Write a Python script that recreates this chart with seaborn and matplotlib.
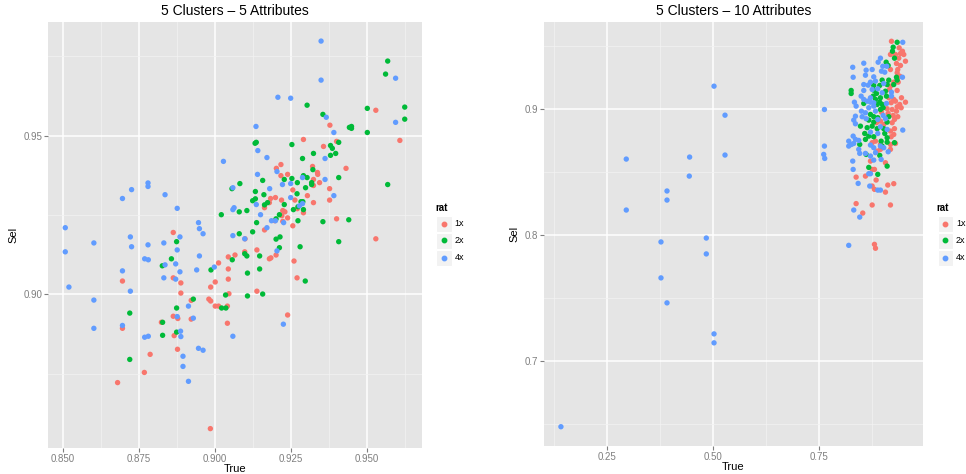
import pandas as pd
import matplotlib
matplotlib.use('Agg')
import matplotlib.pyplot as plt
import seaborn as sns
from matplotlib.patches import Rectangle
from matplotlib.lines import Line2D
from matplotlib.ticker import FixedLocator

# ── data ────────────────────────────────────────────────────
levels = ['1x', '2x', '4x']
palette = ['#F8766D', '#00BA38', '#619CFF']

# panel 1: 5 clusters, 5 attributes
a5_1x_true = [0.8864, 0.9045, 0.9013, 0.9045, 0.8697, 0.8864, 0.8889, 0.9002, 0.9045, 0.8987,
              0.8889, 0.9047, 0.8923, 0.8981, 0.8987, 0.9002, 0.9013, 0.9042, 0.8864, 0.8879,
              0.8923, 0.8825, 0.9042, 0.8697, 0.8867, 0.8878, 0.8788, 0.8769, 0.8681, 0.8986,
              0.9530, 0.9379, 0.9292, 0.9609, 0.9401, 0.9358, 0.9218, 0.9432, 0.9203, 0.9322,
              0.9218, 0.9240, 0.9338, 0.9339, 0.9325, 0.9345, 0.9325, 0.9378, 0.9257, 0.9305,
              0.9200, 0.9184, 0.9220, 0.9264, 0.9378, 0.9180, 0.9325, 0.9164, 0.9272, 0.9224,
              0.9231, 0.9292, 0.9221, 0.9240, 0.9198, 0.9224, 0.9401, 0.9257, 0.9164, 0.9100,
              0.9530, 0.9139, 0.9099, 0.9067, 0.9202, 0.9180, 0.9185, 0.9261, 0.9271, 0.9139, 0.9240]
a5_1x_sel = [0.9195, 0.9118, 0.9099, 0.9080, 0.9042, 0.9052, 0.9036, 0.9039, 0.9048, 0.9023,
             0.9004, 0.9002, 0.8981, 0.8985, 0.8979, 0.8963, 0.8963, 0.8963, 0.8931, 0.8924,
             0.8922, 0.8912, 0.8909, 0.8893, 0.8870, 0.8827, 0.8811, 0.8754, 0.8722, 0.8577,
             0.9580, 0.9533, 0.9488, 0.9485, 0.9482, 0.9466, 0.9409, 0.9397, 0.9397, 0.9403,
             0.9374, 0.9378, 0.9384, 0.9378, 0.9362, 0.9352, 0.9343, 0.9333, 0.9329, 0.9311,
             0.9305, 0.9302, 0.9297, 0.9297, 0.9297, 0.9289, 0.9289, 0.9273, 0.9270, 0.9264,
             0.9260, 0.9257, 0.9248, 0.9241, 0.9232, 0.9230, 0.9238, 0.9216, 0.9203, 0.9175,
             0.9175, 0.9140, 0.9134, 0.9124, 0.9124, 0.9112, 0.9115, 0.9105, 0.9052, 0.9010, 0.8935]

a5_2x_true = [0.9022, 0.8875, 0.8858, 0.8828, 0.8988, 0.9036, 0.8930, 0.9023, 0.9037, 0.8875,
              0.8721, 0.8829, 0.8829, 0.8875, 0.8721, 0.9569, 0.9562, 0.9304, 0.9502, 0.9625,
              0.9625, 0.9356, 0.9443, 0.9450, 0.9450, 0.9502, 0.9408, 0.9137, 0.9133, 0.9254,
              0.9381, 0.9387, 0.9325, 0.9398, 0.9381, 0.9289, 0.9323, 0.9292, 0.9304, 0.9408,
              0.9254, 0.9229, 0.9158, 0.9272, 0.9319, 0.9319, 0.9083, 0.9569, 0.9299, 0.9057,
              0.9134, 0.9271, 0.9162, 0.9134, 0.9125, 0.9174, 0.9164, 0.9284, 0.9290, 0.9229,
              0.9274, 0.9081, 0.9106, 0.9259, 0.9292, 0.9213, 0.9202, 0.9274, 0.9356, 0.9441,
              0.9138, 0.9125, 0.9081, 0.9215, 0.9202, 0.9408, 0.9213, 0.9281, 0.9099, 0.9106,
              0.9148, 0.9058, 0.9148, 0.9108, 0.9298, 0.9158, 0.9108]
a5_2x_sel = [0.9251, 0.9166, 0.9112, 0.9090, 0.9077, 0.8998, 0.8985, 0.8957, 0.8957, 0.8957,
             0.8941, 0.8912, 0.8871, 0.8881, 0.8795, 0.9735, 0.9694, 0.9596, 0.9586, 0.9590,
             0.9552, 0.9567, 0.9526, 0.9529, 0.9523, 0.9510, 0.9479, 0.9479, 0.9476, 0.9472,
             0.9469, 0.9460, 0.9444, 0.9444, 0.9438, 0.9428, 0.9393, 0.9374, 0.9368, 0.9368,
             0.9365, 0.9362, 0.9359, 0.9352, 0.9352, 0.9346, 0.9349, 0.9346, 0.9336, 0.9333,
             0.9324, 0.9317, 0.9314, 0.9301, 0.9295, 0.9289, 0.9282, 0.9292, 0.9292, 0.9283,
             0.9276, 0.9260, 0.9264, 0.9267, 0.9267, 0.9251, 0.9238, 0.9232, 0.9229, 0.9235,
             0.9226, 0.9197, 0.9191, 0.9181, 0.9174, 0.9166, 0.9147, 0.9150, 0.9128, 0.9121,
             0.9121, 0.9109, 0.9080, 0.9067, 0.9042, 0.9001, 0.8995]

a5_4x_true = [0.9029, 0.8781, 0.8781, 0.8727, 0.8697, 0.8837, 0.8877, 0.8947, 0.8950, 0.8962,
              0.8509, 0.8723, 0.8886, 0.8603, 0.8727, 0.8781, 0.8833, 0.8877, 0.8509, 0.8770,
              0.8782, 0.8837, 0.8872, 0.8950, 0.8999, 0.8941, 0.8886, 0.8697, 0.8833, 0.8872,
              0.8521, 0.8723, 0.8603, 0.8914, 0.8877, 0.8930, 0.8603, 0.8697, 0.8888, 0.8889,
              0.8770, 0.8782, 0.8947, 0.8962, 0.8896, 0.8896, 0.8914, 0.9350, 0.9595, 0.9350,
              0.9208, 0.9250, 0.9367, 0.9595, 0.9392, 0.9136, 0.9142, 0.9172, 0.9363, 0.9205,
              0.9141, 0.9289, 0.9363, 0.9223, 0.9250, 0.9060, 0.9181, 0.9392, 0.9250, 0.9137,
              0.9289, 0.9279, 0.9064, 0.9060, 0.9151, 0.9187, 0.9200, 0.9227, 0.9172, 0.9060,
              0.9099, 0.9205, 0.9226, 0.9060]
a5_4x_sel = [0.9419, 0.9351, 0.9340, 0.9330, 0.9302, 0.9314, 0.9271, 0.9226, 0.9207, 0.9191,
             0.9210, 0.9181, 0.9181, 0.9162, 0.9150, 0.9156, 0.9162, 0.9140, 0.9134, 0.9112,
             0.9109, 0.9093, 0.9096, 0.9121, 0.9086, 0.9077, 0.9071, 0.9074, 0.9052, 0.9048,
             0.9023, 0.9010, 0.8982, 0.8963, 0.8930, 0.8925, 0.8893, 0.8902, 0.8884, 0.8867,
             0.8865, 0.8868, 0.8830, 0.8824, 0.8805, 0.8773, 0.8726, 0.9798, 0.9681, 0.9675,
             0.9621, 0.9618, 0.9558, 0.9542, 0.9510, 0.9529, 0.9453, 0.9431, 0.9428, 0.9387,
             0.9378, 0.9368, 0.9362, 0.9346, 0.9349, 0.9336, 0.9333, 0.9311, 0.9305, 0.9283,
             0.9286, 0.9279, 0.9273, 0.9267, 0.9251, 0.9232, 0.9232, 0.9226, 0.9210, 0.9185,
             0.9175, 0.9137, 0.8906, 0.8868]

# panel 2: 5 clusters, 10 attributes
a10_1x_true = [0.9215, 0.9396, 0.9474, 0.9427, 0.9505, 0.9191, 0.9309, 0.9387, 0.9545, 0.9333,
               0.9427, 0.9191, 0.9363, 0.9349, 0.9410, 0.9269, 0.9373, 0.9191, 0.9168, 0.9349,
               0.9151, 0.9269, 0.9451, 0.9545, 0.9208, 0.9309, 0.9410, 0.9113, 0.9231, 0.9349,
               0.9444, 0.9333, 0.8979, 0.9137, 0.9255, 0.9286, 0.9363, 0.8861, 0.8955, 0.9033,
               0.9231, 0.9286, 0.9191, 0.9208, 0.9269, 0.8838, 0.8760, 0.8955, 0.9191, 0.9309,
               0.9191, 0.8878, 0.8955, 0.8720, 0.9073, 0.8760, 0.8814, 0.8602, 0.8382, 0.8854,
               0.9128, 0.9269, 0.8760, 0.8814, 0.9073, 0.8382, 0.8760, 0.9191, 0.8538, 0.8814,
               0.8838]
a10_1x_sel = [0.9535, 0.9483, 0.9456, 0.9438, 0.9430, 0.9430, 0.9430, 0.9401, 0.9377, 0.9359,
              0.9343, 0.9311, 0.9311, 0.9285, 0.9258, 0.9211, 0.9211, 0.9179, 0.9153, 0.9145,
              0.9087, 0.9074, 0.9087, 0.9052, 0.9048, 0.9060, 0.9034, 0.9000, 0.8994, 0.9016,
              0.9008, 0.8981, 0.8973, 0.8963, 0.8947, 0.8915, 0.8937, 0.8889, 0.8902, 0.8876,
              0.8889, 0.8842, 0.8823, 0.8778, 0.8796, 0.8743, 0.8731, 0.8717, 0.8717, 0.8725,
              0.8678, 0.8664, 0.8678, 0.8585, 0.8572, 0.8519, 0.8519, 0.8466, 0.8458, 0.8435,
              0.8395, 0.8406, 0.8387, 0.8361, 0.8339, 0.8248, 0.8237, 0.8237, 0.8173, 0.7925,
              0.7894]

a10_2x_true = [0.9349, 0.9255, 0.9238, 0.9286, 0.9090, 0.9137, 0.9333, 0.9349, 0.8995, 0.9151,
               0.8797, 0.8939, 0.9113, 0.9269, 0.8265, 0.8265, 0.8797, 0.8861, 0.9073, 0.9097,
               0.8783, 0.8838, 0.8955, 0.8562, 0.8939, 0.8995, 0.8878, 0.8955, 0.9019, 0.8720,
               0.8797, 0.8892, 0.9151, 0.9113, 0.8680, 0.8797, 0.8484, 0.8642, 0.8760, 0.8878,
               0.9033, 0.8585, 0.8680, 0.8797, 0.9057, 0.9113, 0.8467, 0.8602, 0.8972, 0.8995,
               0.9113, 0.9286, 0.8618, 0.8939, 0.9113, 0.8680, 0.8892]
a10_2x_sel = [0.9527, 0.9488, 0.9456, 0.9401, 0.9369, 0.9343, 0.9250, 0.9227, 0.9227, 0.9227,
              0.9185, 0.9185, 0.9192, 0.9192, 0.9145, 0.9121, 0.9147, 0.9121, 0.9139, 0.9100,
              0.9100, 0.9074, 0.9087, 0.9042, 0.9052, 0.9034, 0.9034, 0.8994, 0.9008, 0.8955,
              0.8937, 0.8929, 0.8937, 0.8894, 0.8910, 0.8894, 0.8862, 0.8850, 0.8862, 0.8842,
              0.8842, 0.8804, 0.8783, 0.8778, 0.8804, 0.8770, 0.8717, 0.8757, 0.8743, 0.8704,
              0.8735, 0.8731, 0.8638, 0.8630, 0.8545, 0.8535, 0.8480]

a10_4x_true = [0.5033, 0.5292, 0.2965, 0.4458, 0.5292, 0.4450, 0.3925, 0.3925, 0.2965, 0.3783,
               0.4851, 0.4851, 0.3783, 0.3925, 0.5033, 0.5033, 0.1425,
               0.9481, 0.8955, 0.8901, 0.8562, 0.9010, 0.9104, 0.8302, 0.8618, 0.8760, 0.8979,
               0.9057, 0.8602, 0.8312, 0.8797, 0.9474, 0.8838, 0.8720, 0.8562, 0.8665, 0.9033,
               0.8562, 0.8760, 0.8892, 0.8995, 0.9215, 0.8500, 0.8720, 0.8562, 0.9215, 0.8342,
               0.8382, 0.8642, 0.8720, 0.8797, 0.9097, 0.7635, 0.8680, 0.8797, 0.8838, 0.8507,
               0.8602, 0.8366, 0.8326, 0.9019, 0.9073, 0.8524, 0.8618, 0.8892, 0.8366, 0.8955,
               0.9113, 0.9481, 0.8312, 0.8366, 0.8720, 0.8892, 0.8444, 0.8272, 0.8208, 0.8720,
               0.8797, 0.7635, 0.7618, 0.7642, 0.8208, 0.8326, 0.8444, 0.8467, 0.8955, 0.9033,
               0.8602, 0.8720, 0.8838, 0.9137, 0.8972, 0.8797, 0.8302, 0.8312, 0.8680, 0.8720,
               0.8430, 0.8703, 0.8892, 0.8955, 0.8326, 0.8467, 0.8208]
a10_4x_sel = [0.9179, 0.8949, 0.8601, 0.8617, 0.8633, 0.8466, 0.8348, 0.8276, 0.8197, 0.7944,
              0.7975, 0.7849, 0.7659, 0.7461, 0.7215, 0.7144, 0.6479,
              0.9527, 0.9401, 0.9369, 0.9361, 0.9337, 0.9337, 0.9329, 0.9306, 0.9311, 0.9298,
              0.9290, 0.9266, 0.9250, 0.9253, 0.9250, 0.9219, 0.9211, 0.9192, 0.9187, 0.9200,
              0.9145, 0.9153, 0.9158, 0.9127, 0.9131, 0.9100, 0.9087, 0.9074, 0.9100, 0.9052,
              0.9021, 0.9060, 0.9052, 0.9048, 0.9042, 0.8994, 0.9008, 0.9021, 0.8981, 0.8981,
              0.8968, 0.8941, 0.8910, 0.8947, 0.8921, 0.8937, 0.8921, 0.8915, 0.8881, 0.8857,
              0.8836, 0.8831, 0.8783, 0.8757, 0.8815, 0.8804, 0.8749, 0.8717, 0.8704, 0.8712,
              0.8691, 0.8704, 0.8638, 0.8606, 0.8743, 0.8725, 0.8678, 0.8646, 0.8704, 0.8691,
              0.8646, 0.8625, 0.8652, 0.8659, 0.8598, 0.8593, 0.8585, 0.8519, 0.8485, 0.8485,
              0.8408, 0.8387, 0.8355, 0.8355, 0.8197, 0.8141, 0.7917]

titles = ['5 Clusters \u2013 5 Attributes', '5 Clusters \u2013 10 Attributes']
x_major = [[0.850, 0.875, 0.900, 0.925, 0.950], [0.25, 0.50, 0.75]]
x_labels = [['0.850', '0.875', '0.900', '0.925', '0.950'], ['0.25', '0.50', '0.75']]
y_major = [[0.90, 0.95], [0.7, 0.8, 0.9]]
y_labels = [['0.90', '0.95'], ['0.7', '0.8', '0.9']]
x_minor = [[0.8625, 0.8875, 0.9125, 0.9375, 0.9625], [0.125, 0.375, 0.625, 0.875]]
y_minor = [[0.875, 0.925, 0.975], [0.65, 0.75, 0.85, 0.95]]


def make_frame(series):
    parts = []
    for lev, (t, s) in zip(levels, series):
        parts.append(pd.DataFrame({'True': t, 'Sel': s, 'rat': lev}))
    return pd.concat(parts, ignore_index=True)


df5 = make_frame([(a5_1x_true, a5_1x_sel), (a5_2x_true, a5_2x_sel), (a5_4x_true, a5_4x_sel)])
df10 = make_frame([(a10_1x_true, a10_1x_sel), (a10_2x_true, a10_2x_sel), (a10_4x_true, a10_4x_sel)])

# ── figure ───────────────────────────────────────────────────
plt.rcParams['font.family'] = ['Liberation Sans', 'DejaVu Sans']

W, H = 966, 474
fig = plt.figure(figsize=(W / 100, H / 100), dpi=100)
fig.patch.set_facecolor('white')


def px_box(x0, y0, x1, y1):
    return [x0 / W, 1 - y1 / H, (x1 - x0) / W, (y1 - y0) / H]


axes = [fig.add_axes(px_box(48.3, 21.7, 421.7, 448)),
        fig.add_axes(px_box(543.7, 22, 922.7, 446))]

for i, (ax, df) in enumerate(zip(axes, [df5, df10])):
    ax.set_facecolor('#E5E5E5')
    for sp in ax.spines.values():
        sp.set_visible(False)
    sns.scatterplot(data=df, x='True', y='Sel', hue='rat', hue_order=levels,
                    palette=palette, s=15, linewidth=0, alpha=1, legend=False,
                    ax=ax, zorder=3)
    # ggplot-style 5% expansion
    xr = df['True'].max() - df['True'].min()
    yr = df['Sel'].max() - df['Sel'].min()
    ax.set_xlim(df['True'].min() - 0.05 * xr, df['True'].max() + 0.05 * xr)
    ax.set_ylim(df['Sel'].min() - 0.05 * yr, df['Sel'].max() + 0.05 * yr)

    ax.xaxis.set_major_locator(FixedLocator(x_major[i]))
    ax.set_xticklabels(x_labels[i])
    ax.yaxis.set_major_locator(FixedLocator(y_major[i]))
    ax.set_yticklabels(y_labels[i])
    ax.xaxis.set_minor_locator(FixedLocator(x_minor[i]))
    ax.yaxis.set_minor_locator(FixedLocator(y_minor[i]))
    ax.grid(which='major', color='white', linewidth=1.1, zorder=1)
    ax.grid(which='minor', color='#F2F2F2', linewidth=0.55, zorder=1)
    ax.set_axisbelow(True)
    ax.tick_params(which='major', length=3, width=0.8, color='#7F7F7F',
                   labelcolor='#7F7F7F', labelsize=7, pad=1)
    ax.tick_params(which='minor', length=0)

    ax.set_title(titles[i], fontsize=10, pad=5)
    ax.set_xlabel('True', fontsize=8, labelpad=0)
    ax.set_ylabel('Sel', fontsize=8, labelpad=4)

# ── legends (ggplot-style keys) ──────────────────────────────
for lx in [435, 936.5]:
    fig.text(lx / W, 1 - 208 / H, 'rat', fontsize=7, fontweight='bold',
             ha='left', va='center')
    for k, (lev, col) in enumerate(zip(levels, palette)):
        cy = 223.5 + 17 * k
        fig.add_artist(Rectangle(((lx + 1) / W, 1 - (cy + 8) / H), 15.5 / W, 16 / H,
                                 transform=fig.transFigure, facecolor='#F2F2F2',
                                 edgecolor='white', linewidth=0.8))
        fig.add_artist(Line2D([(lx + 8.8) / W], [1 - cy / H], marker='o',
                              markersize=3.2, color=col, linestyle='none',
                              transform=fig.transFigure))
        fig.text((lx + 19.5) / W, 1 - cy / H, lev, fontsize=6.5, ha='left', va='center')

fig.savefig('out.png', dpi=100)
